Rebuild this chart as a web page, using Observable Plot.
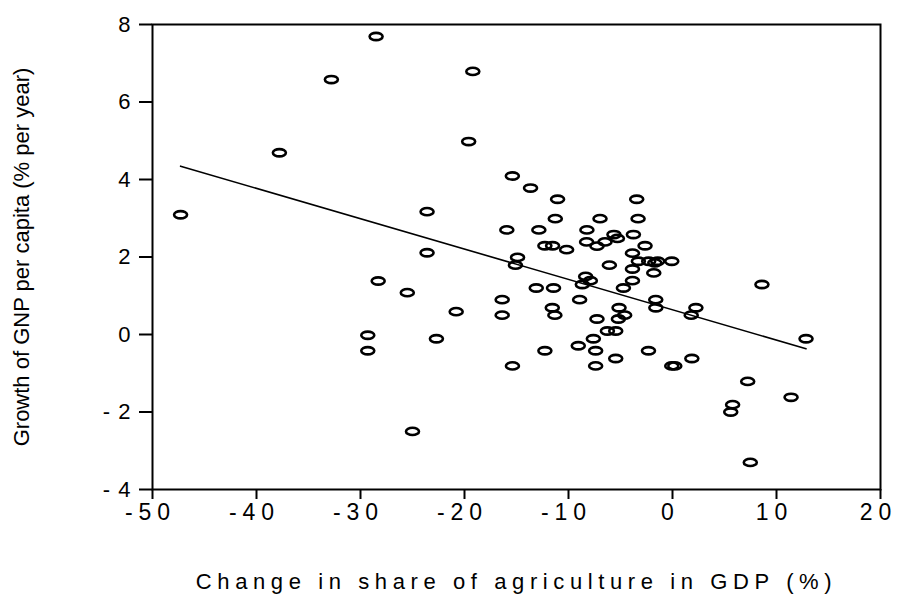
<!DOCTYPE html>
<html>
<head>
<meta charset="utf-8">
<script src="https://cdn.jsdelivr.net/npm/d3@7"></script>
<script src="https://cdn.jsdelivr.net/npm/@observablehq/plot@0.6"></script>
<style>
  html, body { margin: 0; padding: 0; background: #fff; }
  g[aria-label="x-axis tick label"] text { letter-spacing: 6px; }
  g[aria-label="y-axis tick label"] text { letter-spacing: 1px; }
</style>
</head>
<body>
<div id="chart"></div>
<script>
// Change in share of agriculture in GDP (%)
const agriChange = [
  -47.3, -37.8, -32.8, -28.5, -19.2, -19.6, -23.6, -23.6, -28.3, -25.5,
  -29.3, -29.3, -22.7, -25.0, -20.8, -15.4, -13.65, -11.05, -3.44, -11.27,
  -6.97, -3.31, -15.93, -12.85, -8.23, -5.63, -5.3, -3.76, -8.26, -6.49,
  -7.26, -12.27, -11.53, -10.18, -2.64, -3.85, -3.28, -2.29, -1.7, -1.42,
  -0.07, -6.07, -3.85, -1.8, -14.9, -15.1, -8.35, -7.9, -8.67, -3.85,
  -4.72, -13.1, -11.44, -16.38, -8.93, -1.61, -1.6, 2.25, 1.8, -16.38,
  -11.56, -11.31, -5.14, -4.6, -5.2, -7.26, -6.26, -5.46, -7.61, -12.27,
  -9.06, -7.39, -2.31, -15.39, -7.39, -5.46, -0.07, 0.22, 1.86, 7.23,
  5.78, 5.6, 8.6, 12.84, 11.4, 7.48
];
// Growth of GNP per capita (% per year)
const gnpGrowth = [
  3.09, 4.69, 6.58, 7.69, 6.79, 4.98, 3.17, 2.11, 1.38, 1.08,
  -0.02, -0.42, -0.11, -2.5, 0.59, 4.09, 3.78, 3.49, 3.49, 2.99,
  2.99, 2.99, 2.70, 2.70, 2.70, 2.58, 2.48, 2.58, 2.39, 2.39,
  2.28, 2.29, 2.29, 2.19, 2.29, 2.10, 1.89, 1.89, 1.85, 1.89,
  1.89, 1.79, 1.69, 1.59, 1.99, 1.79, 1.50, 1.39, 1.29, 1.39,
  1.2, 1.2, 1.2, 0.9, 0.9, 0.9, 0.69, 0.69, 0.5, 0.5,
  0.69, 0.5, 0.69, 0.5, 0.4, 0.4, 0.09, 0.09, -0.11, -0.42,
  -0.29, -0.42, -0.42, -0.81, -0.81, -0.62, -0.81, -0.81, -0.62, -1.21,
  -1.81, -2.0, 1.29, -0.11, -1.62, -3.3
];
const xTicks = [-50, -40, -30, -20, -10, 0, 10, 20];
const yTicks = [-4, -2, 0, 2, 4, 6, 8];
const xTitle = "Change in share of agriculture in GDP (%)";
const yTitle = "Growth of GNP per capita (% per year)";

const points = agriChange.map((x, i) => ({x, y: gnpGrowth[i]}));

const fmtX = d => d < 0 ? "-" + Math.abs(d) : String(d);
const fmtY = d => d < 0 ? "- " + Math.abs(d) : String(d);

const ellipse = {
  draw(ctx) {
    const rx = 6.5, ry = 3.6, k = 0.5523;
    ctx.moveTo(rx, 0);
    ctx.bezierCurveTo(rx, ry * k, rx * k, ry, 0, ry);
    ctx.bezierCurveTo(-rx * k, ry, -rx, ry * k, -rx, 0);
    ctx.bezierCurveTo(-rx, -ry * k, -rx * k, -ry, 0, -ry);
    ctx.bezierCurveTo(rx * k, -ry, rx, -ry * k, rx, 0);
    ctx.closePath();
  }
};

const chart = Plot.plot({
  width: 897,
  height: 594,
  marginTop: 24,
  marginLeft: 152,
  marginRight: 17,
  marginBottom: 105,
  style: {fontFamily: "'Liberation Sans', Arial, sans-serif", background: "white", color: "black"},
  x: {domain: [-50, 20]},
  y: {domain: [-4, 8]},
  marks: [
    Plot.frame({stroke: "black", strokeWidth: 2}),
    Plot.axisX({ticks: xTicks, tickFormat: fmtX, tickSize: 10, tickPadding: 4, fontSize: 23, strokeWidth: 2, label: null}),
    Plot.axisY({ticks: yTicks, tickFormat: fmtY, tickSize: 13, tickPadding: 8, fontSize: 22, strokeWidth: 2, label: null}),
    Plot.linearRegressionY(points, {x: "x", y: "y", ci: 0, stroke: "black", strokeWidth: 1.6}),
    Plot.dot(points, {x: "x", y: "y", symbol: ellipse, stroke: "black", strokeWidth: 2.6, fill: "none"}),
    Plot.text([xTitle], {text: d => d, frameAnchor: "bottom", lineAnchor: "middle", textAnchor: "middle", dy: 92, fontSize: 22, fill: "black"}),
    Plot.text([yTitle], {text: d => d, frameAnchor: "left", lineAnchor: "middle", textAnchor: "middle", dx: -131, rotate: -90, fontSize: 22, fill: "black"})
  ]
});
d3.select(chart).selectAll('g[aria-label="x-axis tick label"] text').attr("dx", -2);
d3.select(chart).selectAll("text")
  .filter(function() { return this.textContent === xTitle; })
  .style("letter-spacing", "5.6px");
document.getElementById("chart").appendChild(chart);
</script>
</body>
</html>
